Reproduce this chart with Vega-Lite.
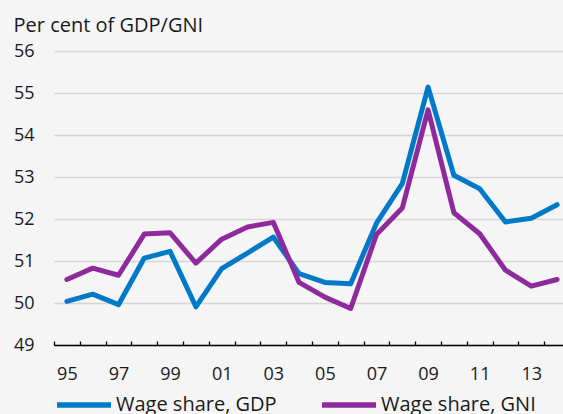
{
  "$schema": "https://vega.github.io/schema/vega-lite/v6.json",
  "width": 509,
  "height": 294,
  "autosize": {"type": "none"},
  "padding": {"left": 54, "top": 51, "right": 0, "bottom": 69},
  "background": "#f5f5f5",
  "config": {
    "view": {"stroke": null},
    "font": "Open Sans",
    "axis": {"labelColor": "#1a1a1a", "titleColor": "#1a1a1a"}
  },
  "data": {
    "values": [
      {"year": 1995, "series": "Wage share, GDP", "value": 50.04},
      {"year": 1996, "series": "Wage share, GDP", "value": 50.21},
      {"year": 1997, "series": "Wage share, GDP", "value": 49.96},
      {"year": 1998, "series": "Wage share, GDP", "value": 51.07},
      {"year": 1999, "series": "Wage share, GDP", "value": 51.23},
      {"year": 2000, "series": "Wage share, GDP", "value": 49.91},
      {"year": 2001, "series": "Wage share, GDP", "value": 50.82},
      {"year": 2002, "series": "Wage share, GDP", "value": 51.19},
      {"year": 2003, "series": "Wage share, GDP", "value": 51.57},
      {"year": 2004, "series": "Wage share, GDP", "value": 50.7},
      {"year": 2005, "series": "Wage share, GDP", "value": 50.49},
      {"year": 2006, "series": "Wage share, GDP", "value": 50.46},
      {"year": 2007, "series": "Wage share, GDP", "value": 51.9},
      {"year": 2008, "series": "Wage share, GDP", "value": 52.84},
      {"year": 2009, "series": "Wage share, GDP", "value": 55.14},
      {"year": 2010, "series": "Wage share, GDP", "value": 53.04},
      {"year": 2011, "series": "Wage share, GDP", "value": 52.72},
      {"year": 2012, "series": "Wage share, GDP", "value": 51.93},
      {"year": 2013, "series": "Wage share, GDP", "value": 52.02},
      {"year": 2014, "series": "Wage share, GDP", "value": 52.34},
      {"year": 1995, "series": "Wage share, GNI", "value": 50.56},
      {"year": 1996, "series": "Wage share, GNI", "value": 50.83},
      {"year": 1997, "series": "Wage share, GNI", "value": 50.66},
      {"year": 1998, "series": "Wage share, GNI", "value": 51.64},
      {"year": 1999, "series": "Wage share, GNI", "value": 51.67},
      {"year": 2000, "series": "Wage share, GNI", "value": 50.95},
      {"year": 2001, "series": "Wage share, GNI", "value": 51.52},
      {"year": 2002, "series": "Wage share, GNI", "value": 51.81},
      {"year": 2003, "series": "Wage share, GNI", "value": 51.92},
      {"year": 2004, "series": "Wage share, GNI", "value": 50.49},
      {"year": 2005, "series": "Wage share, GNI", "value": 50.14},
      {"year": 2006, "series": "Wage share, GNI", "value": 49.87},
      {"year": 2007, "series": "Wage share, GNI", "value": 51.63},
      {"year": 2008, "series": "Wage share, GNI", "value": 52.26},
      {"year": 2009, "series": "Wage share, GNI", "value": 54.6},
      {"year": 2010, "series": "Wage share, GNI", "value": 52.15},
      {"year": 2011, "series": "Wage share, GNI", "value": 51.65},
      {"year": 2012, "series": "Wage share, GNI", "value": 50.78},
      {"year": 2013, "series": "Wage share, GNI", "value": 50.4},
      {"year": 2014, "series": "Wage share, GNI", "value": 50.56}
    ]
  },
  "mark": {"type": "line", "strokeWidth": 5, "strokeJoin": "round", "strokeCap": "round", "clip": true},
  "encoding": {
    "x": {
      "field": "year",
      "type": "quantitative",
      "scale": {"domain": [1994.5, 2014.23], "nice": false, "zero": false},
      "axis": {
        "title": null,
        "grid": false,
        "values": [1994.5, 1995, 1995.5, 1996.5, 1997, 1997.5, 1998.5, 1999, 1999.5, 2000.5, 2001, 2001.5, 2002.5, 2003, 2003.5, 2004.5, 2005, 2005.5, 2006.5, 2007, 2007.5, 2008.5, 2009, 2009.5, 2010.5, 2011, 2011.5, 2012.5, 2013, 2013.5],
        "labelExpr": "datum.value % 2 === 1 ? slice(toString(datum.value), 2) : ''",
        "labelOverlap": false,
        "labelFlush": false,
        "labelBound": false,
        "labelFontSize": 18,
        "labelPadding": 24,
        "domainColor": "#000000",
        "domainWidth": 1.3,
        "tickColor": "#000000",
        "tickWidth": 1.3,
        "tickSize": -4,
        "tickOpacity": {"condition": {"test": "datum.value % 1 === 0", "value": 0}, "value": 1}
      }
    },
    "y": {
      "field": "value",
      "type": "quantitative",
      "scale": {"domain": [49, 56], "nice": false, "zero": false},
      "axis": {
        "values": [49, 50, 51, 52, 53, 54, 55, 56],
        "format": "d",
        "title": "Per cent of GDP/GNI",
        "titleAngle": 0,
        "titleAlign": "left",
        "titleBaseline": "alphabetic",
        "titleX": -41,
        "titleY": -20,
        "titleFontSize": 20,
        "titleFontWeight": "normal",
        "labelFontSize": 18,
        "labelPadding": 20,
        "domain": false,
        "ticks": false,
        "grid": true,
        "gridColor": "#d6d6d6",
        "gridWidth": 1.5
      }
    },
    "color": {
      "field": "series",
      "type": "nominal",
      "scale": {"domain": ["Wage share, GDP", "Wage share, GNI"], "range": ["#0079c9", "#8e2a9c"]},
      "legend": {
        "title": null,
        "orient": "none",
        "direction": "horizontal",
        "legendX": 0,
        "legendY": 324,
        "padding": 0,
        "symbolType": "stroke",
        "symbolSize": 2916,
        "symbolStrokeWidth": 5.5,
        "labelFontSize": 20,
        "labelColor": "#1a1a1a",
        "labelOffset": 2,
        "columnPadding": 34,
        "labelLimit": 400
      }
    }
  }
}
